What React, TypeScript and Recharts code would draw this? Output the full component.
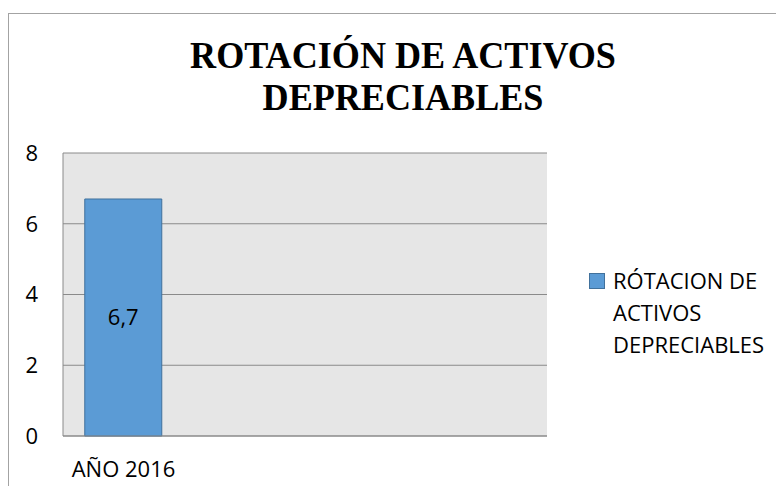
import React from 'react';
import {
  BarChart,
  Bar,
  XAxis,
  YAxis,
  CartesianGrid,
  Legend,
  LabelList,
} from 'recharts';

const categories = ['AÑO 2016', '', '', ''];
const rotacionValues: (number | null)[] = [6.7, null, null, null];
const yTicks = [0, 2, 4, 6, 8];
const seriesName = 'RÓTACION DE ACTIVOS DEPRECIABLES';
const titleLines = ['ROTACIÓN DE ACTIVOS', 'DEPRECIABLES'];

const data = categories.map((name, i) => ({ name, value: rotacionValues[i] }));

const FONT = '"Open Sans", sans-serif';
const GRID = '#8a8a8a';
const BAR_FILL = '#5b9bd5';
const BAR_STROKE = '#41719c';

const renderLegend = () => (
  <div style={{ position: 'relative', fontFamily: FONT, fontSize: 22, lineHeight: '32px', color: '#000', textAlign: 'left' }}>
    <span
      style={{
        position: 'absolute',
        left: -24,
        top: 9,
        width: 14,
        height: 14,
        background: BAR_FILL,
        border: `1px solid ${BAR_STROKE}`,
      }}
    />
    <div>RÓTACION DE</div>
    <div>ACTIVOS</div>
    <div>DEPRECIABLES</div>
  </div>
);

export default function App() {
  return (
    <div style={{ position: 'relative', width: 776, height: 478, overflow: 'hidden' }}>
      <div
        style={{
          position: 'absolute',
          left: 0,
          top: 5,
          width: 800,
          height: 520,
          border: '1px solid #a3a3a3',
          boxSizing: 'border-box',
        }}
      />
      <div
        style={{
          position: 'absolute',
          left: 95,
          top: 26,
          width: 600,
          textAlign: 'center',
          fontFamily: '"Liberation Serif", serif',
          fontWeight: 700,
          fontSize: 38,
          lineHeight: '42px',
          color: '#000',
          transform: 'scaleX(0.95)',
          transformOrigin: 'center',
        }}
      >
        {titleLines.map((t) => (
          <div key={t}>{t}</div>
        ))}
      </div>
      <div style={{ position: 'absolute', left: 0, top: 0 }}>
        <BarChart
          width={776}
          height={478}
          data={data}
          margin={{ top: 145, right: 237, bottom: 0, left: 0 }}
          barCategoryGap="18%"
        >
          <CartesianGrid vertical={false} stroke={GRID} fill="#e6e6e6" />
          <XAxis
            dataKey="name"
            axisLine={{ stroke: GRID }}
            tickLine={false}
            tickSize={0}
            tickMargin={25}
            height={50}
            interval={0}
            tick={{ fill: '#000', fontSize: 22, fontFamily: FONT }}
          />
          <YAxis
            domain={[0, 8]}
            ticks={yTicks}
            width={55}
            axisLine={{ stroke: GRID }}
            tickLine={false}
            tickSize={0}
            tickMargin={25}
            tick={{ fill: '#000', fontSize: 22, fontFamily: FONT }}
          />
          <Legend
            layout="horizontal"
            verticalAlign="middle"
            align="center"
            content={renderLegend}
            wrapperStyle={{ position: 'absolute', left: 605, top: 256, width: 170 }}
          />
          <Bar
            dataKey="value"
            name={seriesName}
            fill={BAR_FILL}
            stroke={BAR_STROKE}
            strokeWidth={1}
            isAnimationActive={false}
          >
            <LabelList
              dataKey="value"
              position="center"
              formatter={(v: any) => (v == null ? '' : String(v).replace('.', ','))}
              style={{ fill: '#000', fontSize: 22, fontFamily: FONT }}
            />
          </Bar>
        </BarChart>
      </div>
    </div>
  );
}
